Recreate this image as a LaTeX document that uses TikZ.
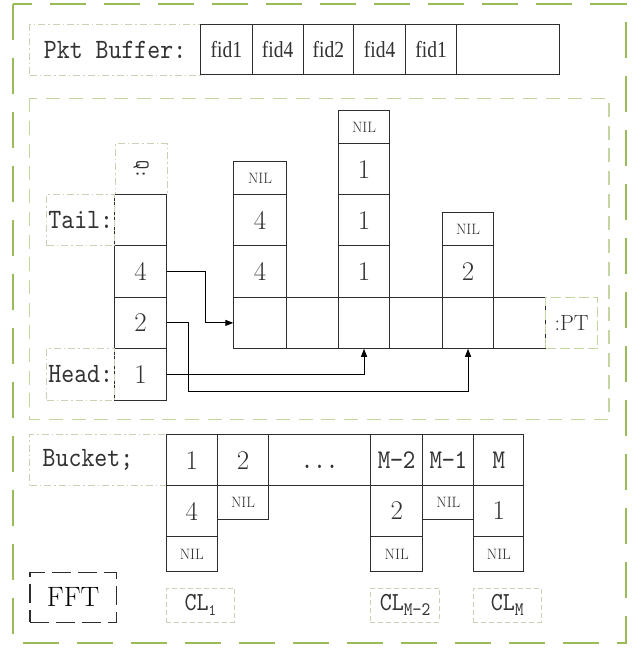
\documentclass[tikz,border=0pt]{standalone}
\usepackage{fontspec}
\newfontfamily\lblfont{lmmono10}[Extension=.otf, UprightFont=*-regular, FakeStretch=0.88]
\newfontfamily\fidfont[FakeStretch=0.85]{Liberation Serif}
\usetikzlibrary{arrows.meta}
\definecolor{outerg}{RGB}{155,187,89}
\definecolor{innerg}{RGB}{195,213,160}
\definecolor{lblg}{RGB}{200,210,180}
\definecolor{cellc}{RGB}{45,45,45}
\definecolor{txtc}{RGB}{50,50,50}
\begin{document}
\begin{tikzpicture}[x=1pt,y=-1pt,
  sz/.style 2 args={minimum width=#1pt, minimum height=#2pt},
  cell/.style={draw=cellc, line width=1.1pt, inner sep=0pt, anchor=north west, text=txtc, font=\fontsize{27}{27}\selectfont},
  nil/.style={cell, font=\fontsize{15}{15}\selectfont},
  fidcell/.style={cell, font=\fidfont\fontsize{23}{23}\selectfont},
  mcell/.style={cell, font=\lblfont\fontsize{27}{27}\selectfont},
  lbl/.style={draw=lblg, line width=0.9pt, dash pattern=on 7pt off 3pt on 1.5pt off 3pt, inner sep=0pt, anchor=north west, text=txtc, font=\lblfont\fontsize{28}{28}\selectfont},
  ptlbl/.style={draw=innerg, line width=1pt, dash pattern=on 10pt off 4pt, inner sep=0pt, anchor=north west, text=txtc, font=\fontsize{22}{22}\selectfont},
  cllbl/.style={draw=lblg, line width=0.9pt, dash pattern=on 5pt off 3pt, inner sep=0pt, anchor=north west, text=txtc, font=\lblfont\fontsize{26}{26}\selectfont},
  fftbox/.style={draw=cellc, line width=1.3pt, dash pattern=on 19pt off 7pt, inner sep=0pt, anchor=north west, text=black, font=\fontsize{28}{28}\selectfont},
  conn/.style={draw=black, line width=1pt, -{Triangle[length=8pt,width=6pt]}},
  txt/.style={inner sep=0pt, text=txtc, font=\lblfont\fontsize{28}{28}\selectfont}
]
\useasboundingbox (0,0) rectangle (638,648);
\fill[white] (0,0) rectangle (638,648);
% frames
\draw[outerg, line width=2pt, dash pattern=on 36pt off 18pt] (13.3,4) rectangle (626,642.7);
\draw[innerg, line width=1.1pt, dash pattern=on 14pt off 8.7pt] (29.3,98.3) rectangle (609,419.3);

% packet buffer
\node[lbl, sz={170.7}{51}] (pktl) at (29.3,24) {Pkt Buffer:};
\node[fidcell, sz={51.5}{50}] (f1) at (200,24) {fid1};
\node[fidcell, sz={51}{50}] (f2) at (251.5,24) {fid4};
\node[fidcell, sz={50.5}{50}] (f3) at (302.5,24) {fid2};
\node[fidcell, sz={52}{50}] (f4) at (353,24) {fid4};
\node[fidcell, sz={51}{50}] (f5) at (405,24) {fid1};
\node[fidcell, sz={102.7}{50}] (f6) at (456,24) {};

% queue column
\node[lbl, sz={51.7}{51}] (qb) at (115,143.3) {\rotatebox{-90}{\fontsize{20}{20}\selectfont Q:}};
\node[cell, sz={51.4}{51}] (tt) at (114.3,194.3) {};
\node[cell, sz={51.4}{51.7}] (t4) at (114.3,245.3) {4};
\node[cell, sz={51.4}{50.7}] (t2) at (114.3,297) {2};
\node[cell, sz={51.4}{51.8}] (t1) at (114.3,347.7) {1};
\node[lbl, sz={68}{51}] (taill) at (46.3,194.3) {Tail:};
\node[lbl, sz={68}{51.8}] (headl) at (46.3,347.7) {Head:};

% PT row
\node[cell, sz={52.4}{50.7}] (p1) at (233.3,297) {};
\node[cell, sz={52}{50.7}] (p2) at (285.7,297) {};
\node[cell, sz={51.6}{50.7}] (p3) at (337.7,297) {};
\node[cell, sz={52.4}{50.7}] (p4) at (389.3,297) {};
\node[cell, sz={51.6}{50.7}] (p5) at (441.7,297) {};
\node[cell, sz={51.7}{50.7}] (p6) at (493.3,297) {};
\node[ptlbl, sz={52.3}{50.7}] (ptl) at (545,297) {:PT};

% columns above PT
\node[nil, sz={52.4}{33.6}] (c1n) at (233.3,160.7) {NIL};
\node[cell, sz={52.4}{51}] (c1a) at (233.3,194.3) {4};
\node[cell, sz={52.4}{51.7}] (c1b) at (233.3,245.3) {4};
\node[nil, sz={51.6}{33.3}] (c3n) at (337.7,110) {NIL};
\node[cell, sz={51.6}{51}] (c3a) at (337.7,143.3) {1};
\node[cell, sz={51.6}{51}] (c3b) at (337.7,194.3) {1};
\node[cell, sz={51.6}{51.7}] (c3c) at (337.7,245.3) {1};
\node[nil, sz={51.6}{33.6}] (c5n) at (441.7,211.7) {NIL};
\node[cell, sz={51.6}{51.7}] (c5a) at (441.7,245.3) {2};

% connectors
\draw[conn] (t4.east) -- ++(38.3,0) |- (p1.west);
\draw[conn] (t2.east) -- ++(21.3,0) -- ++(0,68.3) -| (p5.south);
\draw[conn] (t1.east) -| (p3.south);

% bucket
\node[lbl, sz={136.4}{50.7}] (bl) at (29.3,434.3) {};
\node[txt] (bltxt) at (88,459.6) {Bucket;};
\node[cell, sz={51}{50.7}] (b1) at (165.7,434.3) {1};
\node[cell, sz={51.6}{50.7}] (b2) at (216.7,434.3) {2};
\node[mcell, sz={101.7}{50.7}] (bd) at (268.3,434.3) {\vphantom{M}...};
\node[mcell, sz={52.3}{50.7}] (bm2) at (370,434.3) {M−2};
\node[mcell, sz={51}{50.7}] (bm1) at (422.3,434.3) {M−1};
\node[mcell, sz={50}{50.7}] (bm) at (473.3,434.3) {M};

\node[cell, sz={51}{51}] (b1a) at (165.7,485) {4};
\node[nil, sz={51}{35}] (b1n) at (165.7,536) {NIL};
\node[nil, sz={51.6}{34}] (b2n) at (216.7,485) {NIL};
\node[cell, sz={52.3}{51}] (bm2a) at (370,485) {2};
\node[nil, sz={52.3}{35}] (bm2n) at (370,536) {NIL};
\node[nil, sz={51}{34}] (bm1n) at (422.3,485) {NIL};
\node[cell, sz={50}{51}] (bma) at (473.3,485) {1};
\node[nil, sz={50}{35}] (bmn) at (473.3,536) {NIL};

% bottom labels
\node[fftbox, sz={86.4}{50}] (fft) at (29.3,571.7) {FFT};
\node[cllbl, sz={68.3}{34}] (cl1) at (165.7,587.7) {CL\raisebox{-5pt}{\fontsize{16}{16}\selectfont 1}};
\node[cllbl, sz={69.3}{34}] (clm2) at (370,587.7) {CL\raisebox{-5pt}{\fontsize{19}{19}\selectfont M−2}};
\node[cllbl, sz={68}{34}] (clm) at (472.7,587.7) {CL\raisebox{-5pt}{\fontsize{19}{19}\selectfont M}};
\end{tikzpicture}
\end{document}
